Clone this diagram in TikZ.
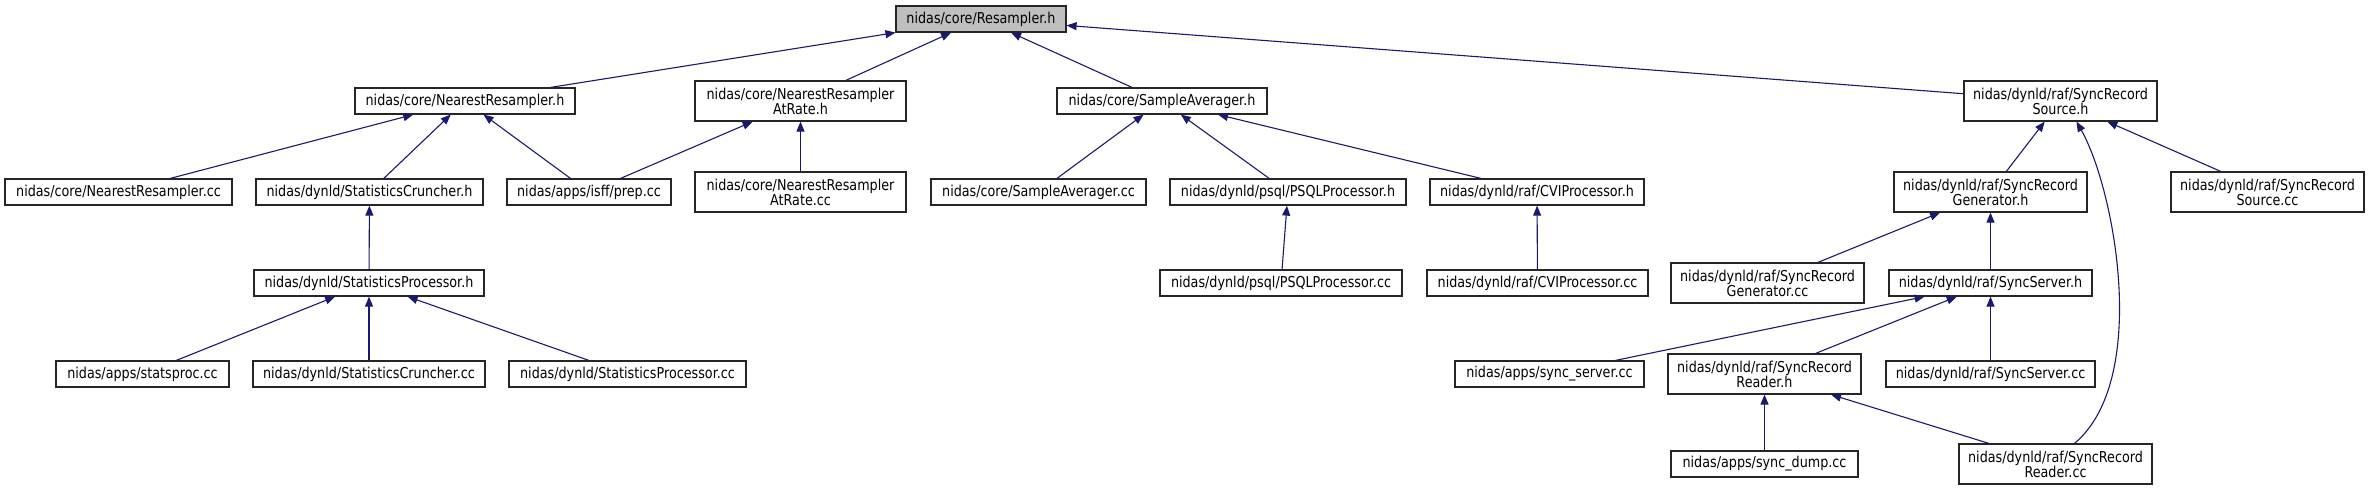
\documentclass[tikz,border=0pt]{standalone}
\usepackage{fontspec}
\setmainfont{DejaVu Sans}[FakeStretch=0.85]
\usetikzlibrary{arrows.meta,calc}
\definecolor{edgeblue}{HTML}{191970}
\definecolor{rootgrey}{HTML}{BFBFBF}
\begin{document}
\begin{tikzpicture}[x=1pt,y=-1pt,
  box/.style={draw=black!85, line width=1.2pt, inner sep=0pt, align=center,
    font=\fontsize{15}{15}\selectfont, fill=white, minimum height=26pt},
  dbl/.style={minimum height=40pt},
  edge/.style={draw=edgeblue, line width=1.1pt,
    -{Triangle[length=10pt,width=8pt]}}]
\useasboundingbox (0,0) rectangle (2369,491);
% row 1
\node[box, fill=rootgrey, minimum width=170pt] (rs) at (981,19) {nidas/core/Resampler.h};
% row 2
\node[box, minimum width=220pt] (nrh) at (465,101) {nidas/core/NearestResampler.h};
\node[box, dbl, minimum width=211pt] (nrarh) at (800.5,101) {nidas/core/NearestResampler\\AtRate.h};
\node[box, minimum width=210pt] (sah) at (1162,101) {nidas/core/SampleAverager.h};
\node[box, dbl, minimum width=193pt] (srsh) at (2060.5,101) {nidas/dynld/raf/SyncRecord\\Source.h};
% row 3
\node[box, minimum width=227pt] (nrcc) at (118.5,192) {nidas/core/NearestResampler.cc};
\node[box, minimum width=227pt] (sch) at (369.5,192) {nidas/dynld/StatisticsCruncher.h};
\node[box, minimum width=164pt] (prep) at (589,192) {nidas/apps/isff/prep.cc};
\node[box, dbl, minimum width=211pt] (nrarcc) at (800.5,192) {nidas/core/NearestResampler\\AtRate.cc};
\node[box, minimum width=215pt] (sacc) at (1038.5,192) {nidas/core/SampleAverager.cc};
\node[box, minimum width=236pt] (psqlh) at (1288,192) {nidas/dynld/psql/PSQLProcessor.h};
\node[box, minimum width=214pt] (cvih) at (1537,192) {nidas/dynld/raf/CVIProcessor.h};
\node[box, dbl, minimum width=193pt] (srgh) at (1990.5,192) {nidas/dynld/raf/SyncRecord\\Generator.h};
\node[box, dbl, minimum width=193pt] (srscc) at (2267.5,192) {nidas/dynld/raf/SyncRecord\\Source.cc};
% row 4
\node[box, minimum width=230pt] (sph) at (369,283) {nidas/dynld/StatisticsProcessor.h};
\node[box, minimum width=242pt] (psqlcc) at (1281,283) {nidas/dynld/psql/PSQLProcessor.cc};
\node[box, minimum width=221pt] (cvicc) at (1537.5,283) {nidas/dynld/raf/CVIProcessor.cc};
\node[box, dbl, minimum width=193pt] (srgcc) at (1767.5,283) {nidas/dynld/raf/SyncRecord\\Generator.cc};
\node[box, minimum width=203pt] (ssh) at (1990.5,283) {nidas/dynld/raf/SyncServer.h};
% row 5
\node[box, minimum width=173pt] (statsproc) at (142.5,374) {nidas/apps/statsproc.cc};
\node[box, minimum width=232pt] (sccc) at (369,374) {nidas/dynld/StatisticsCruncher.cc};
\node[box, minimum width=237pt] (spcc) at (627.5,374) {nidas/dynld/StatisticsProcessor.cc};
\node[box, minimum width=189pt] (ssvcc) at (1549.5,374) {nidas/apps/sync\_server.cc};
\node[box, dbl, minimum width=193pt] (srrh) at (1764.5,374) {nidas/dynld/raf/SyncRecord\\Reader.h};
\node[box, minimum width=209pt] (sscc) at (1990.5,374) {nidas/dynld/raf/SyncServer.cc};
% row 6
\node[box, minimum width=187pt] (sdump) at (1764.5,464) {nidas/apps/sync\_dump.cc};
\node[box, dbl, minimum width=193pt] (srrcc) at (2055.5,464) {nidas/dynld/raf/SyncRecord\\Reader.cc};
% edges
\draw[edge] (nrh) -- (rs);
\draw[edge] (nrarh) -- (rs);
\draw[edge] (sah) -- (rs);
\draw[edge] (srsh) -- (rs);
\draw[edge] (nrcc) -- (nrh);
\draw[edge] (sch) -- (nrh);
\draw[edge] (prep) -- (nrh);
\draw[edge] (prep) -- (nrarh);
\draw[edge] (nrarcc) -- (nrarh);
\draw[edge] (sph) -- (sch);
\draw[edge] (statsproc) -- (sph);
\draw[edge] (sccc) -- (sph);
\draw[edge] (spcc) -- (sph);
\draw[edge] (sacc) -- (sah);
\draw[edge] (psqlh) -- (sah);
\draw[edge] (cvih) -- (sah);
\draw[edge] (psqlcc) -- (psqlh);
\draw[edge] (cvicc) -- (cvih);
\draw[edge] (srgh) -- (srsh);
\draw[edge] (srscc) -- (srsh);
\draw[edge] ($(srrcc.north)+(19,0)$) .. controls (2150,380) and (2115,190) .. ($(srsh.south)+(16,0)$);
\draw[edge] (srgcc) -- (srgh);
\draw[edge] (ssh) -- (srgh);
\draw[edge] (ssvcc) -- (ssh);
\draw[edge] (srrh) -- (ssh);
\draw[edge] (sscc) -- (ssh);
\draw[edge] (sdump) -- (srrh);
\draw[edge] (srrcc) -- (srrh);
\end{tikzpicture}
\end{document}
